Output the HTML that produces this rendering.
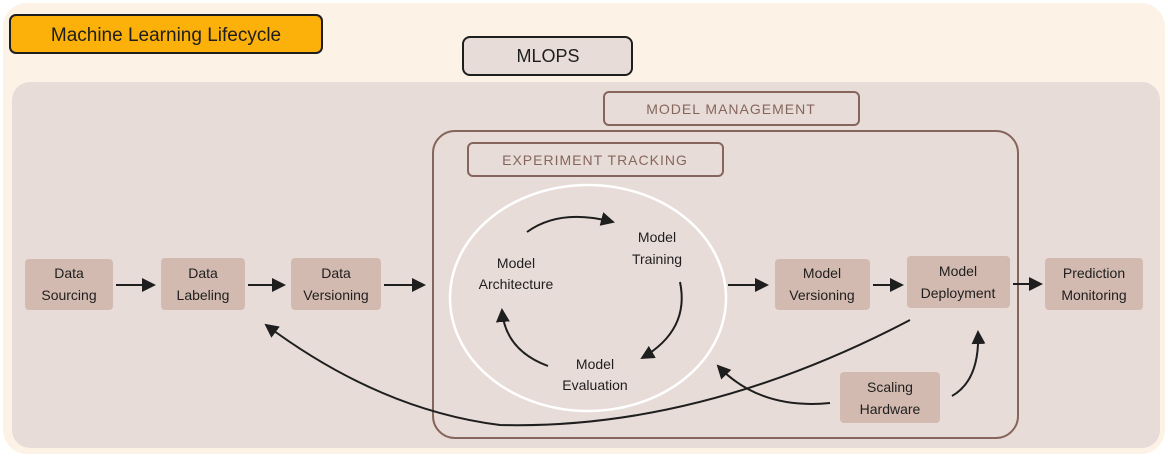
<!DOCTYPE html>
<html><head><meta charset="utf-8"><style>
body{margin:0;width:1168px;height:456px;overflow:hidden;background:#fff}
svg text{font-family:"Liberation Sans",sans-serif}
</style></head><body>
<svg width="1168" height="456" viewBox="0 0 1168 456">
<defs><marker id="a" markerWidth="14" markerHeight="14" refX="12" refY="7" orient="auto" markerUnits="userSpaceOnUse"><path d="M0,0 L14,7 L0,14 z" fill="#1e1e1e"/></marker></defs>
<rect x="3" y="3" width="1162" height="451" rx="24" fill="#fdf2e6"/>
<rect x="12" y="82" width="1148" height="366" rx="18" fill="#e8dcd8"/>
<rect x="10" y="15" width="312" height="38" rx="6" fill="#fbb00a" stroke="#1e1e1e" stroke-width="2"/>
<text x="166" y="41" font-size="19" text-anchor="middle" fill="#1e1e1e">Machine Learning Lifecycle</text>
<rect x="463" y="37" width="169" height="38" rx="7" fill="#e8dcd8" stroke="#1e1e1e" stroke-width="2"/>
<text x="548" y="62" font-size="18" text-anchor="middle" fill="#1e1e1e">MLOPS</text>
<rect x="604" y="92" width="255" height="33" rx="5" fill="none" stroke="#86665c" stroke-width="2"/>
<text x="731" y="114" font-size="14" text-anchor="middle" fill="#86665c" letter-spacing="1">MODEL MANAGEMENT</text>
<rect x="433" y="131" width="585" height="307" rx="22" fill="none" stroke="#86665c" stroke-width="2"/>
<rect x="468" y="143" width="255" height="33" rx="5" fill="none" stroke="#86665c" stroke-width="2"/>
<text x="595" y="165" font-size="14" text-anchor="middle" fill="#86665c" letter-spacing="1">EXPERIMENT TRACKING</text>
<ellipse cx="588" cy="298" rx="138" ry="113" fill="none" stroke="#fff" stroke-width="2.5"/>
<g fill="#d3bab0">
<rect x="25" y="259" width="88" height="51" rx="4"/>
<rect x="161" y="258" width="84" height="52" rx="4"/>
<rect x="291" y="258" width="90" height="52" rx="4"/>
<rect x="775" y="259" width="95" height="51" rx="4"/>
<rect x="907" y="256" width="103" height="52" rx="4"/>
<rect x="1045" y="258" width="98" height="52" rx="4"/>
<rect x="840" y="372" width="100" height="51" rx="4"/>
</g>
<g font-size="14" fill="#1e1e1e" text-anchor="middle">
<text x="69" y="278">Data</text><text x="69" y="300">Sourcing</text>
<text x="203" y="278">Data</text><text x="203" y="300">Labeling</text>
<text x="336" y="278">Data</text><text x="336" y="300">Versioning</text>
<text x="822" y="278">Model</text><text x="822" y="300">Versioning</text>
<text x="958" y="276">Model</text><text x="958" y="298">Deployment</text>
<text x="1094" y="278">Prediction</text><text x="1094" y="300">Monitoring</text>
<text x="890" y="392">Scaling</text><text x="890" y="414">Hardware</text>
<text x="516" y="268">Model</text><text x="516" y="289">Architecture</text>
<text x="657" y="242">Model</text><text x="657" y="264">Training</text>
<text x="595" y="369">Model</text><text x="595" y="390">Evaluation</text>
</g>
<g stroke="#1e1e1e" stroke-width="2" fill="none" marker-end="url(#a)">
<path d="M116 285 L154 285"/><path d="M248 285 L284 285"/><path d="M384 285 L424 285"/>
<path d="M728 285 L767 285"/><path d="M873 285 L902 285"/><path d="M1013 284 L1041 284"/>
<path d="M527 232 Q560 208 613 222"/>
<path d="M680 282 Q690 330 642 358"/>
<path d="M548 366 Q505 350 502 310"/>
<path d="M910 320 Q700 430 500 425 Q380 410 266 325"/>
<path d="M830 403 Q760 410 718 366"/>
<path d="M952 396 Q980 380 978 332"/>
</g>
</svg>
</body></html>
